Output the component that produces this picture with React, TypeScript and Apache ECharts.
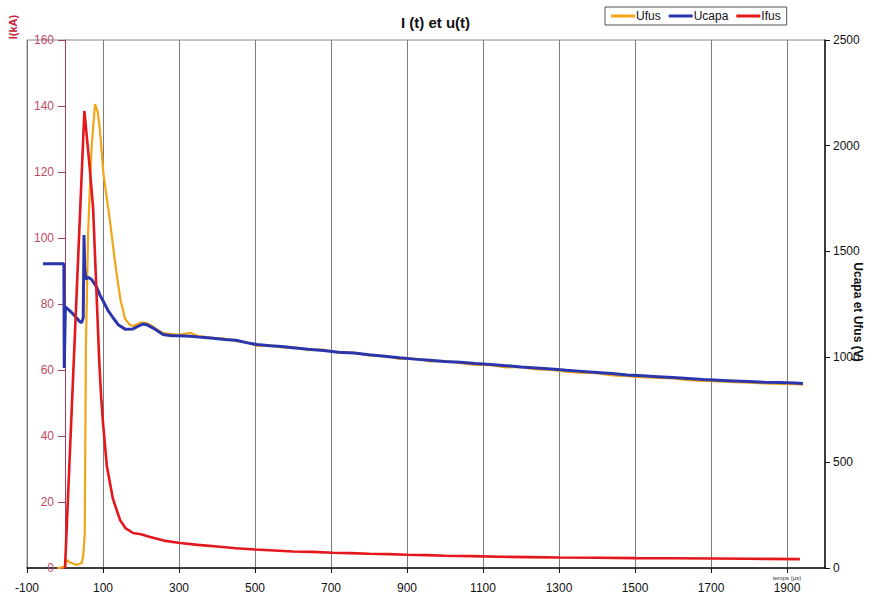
import React, { useEffect, useRef } from "react";
import * as echarts from "echarts";

const xTickValues = [-100, 100, 300, 500, 700, 900, 1100, 1300, 1500, 1700, 1900];

// Ucapa (V) : [time µs, value]
const ucapaData: [number, number][] = [
  [-58, 1440], [-30, 1441], [-3, 1440], [-2, 947], [1, 1236], [10, 1222], [20, 1205], [30, 1185],
  [38, 1168], [44, 1162], [48, 1185], [50, 1577], [52, 1420], [55, 1368], [62, 1376], [70, 1366],
  [83, 1331], [92, 1292], [101, 1262], [113, 1220], [126, 1186], [140, 1152], [158, 1131],
  [179, 1132], [195, 1147], [205, 1155], [215, 1152], [232, 1136], [258, 1106], [280, 1100],
  [300, 1100], [330, 1097], [360, 1092], [390, 1088], [420, 1082], [450, 1078], [480, 1066],
  [505, 1058], [540, 1052], [570, 1049], [600, 1043], [640, 1036], [680, 1030], [720, 1022],
  [760, 1018], [800, 1010], [840, 1003], [880, 995], [920, 989], [960, 984], [1000, 978],
  [1040, 974], [1080, 968], [1120, 963], [1160, 958], [1200, 952], [1240, 947], [1280, 942],
  [1320, 936], [1360, 931], [1400, 926], [1440, 921], [1480, 914], [1520, 910], [1560, 906],
  [1600, 902], [1640, 897], [1680, 892], [1720, 889], [1760, 886], [1800, 883], [1840, 880],
  [1880, 878], [1920, 876], [1942, 874],
];

// Ufus (V)
const ufusData: [number, number][] = [
  [-20, 0], [0, 5], [4, 38], [15, 25], [31, 14], [44, 24], [48, 60], [52, 166], [55, 1046],
  [61, 1600], [70, 1993], [79, 2197], [86, 2160], [92, 2074], [101, 1869], [110, 1750],
  [118, 1648], [128, 1500], [136, 1390], [146, 1270], [158, 1180], [170, 1152], [179, 1146],
  [200, 1162], [215, 1160], [232, 1142], [258, 1112], [300, 1104], [330, 1114], [350, 1098],
  [390, 1090], [420, 1086], [450, 1074], [480, 1068], [505, 1052], [540, 1055], [570, 1044],
  [600, 1046], [640, 1032], [680, 1034], [720, 1018], [760, 1020], [800, 1006], [840, 1005],
  [880, 990], [920, 992], [960, 978], [1000, 980], [1040, 970], [1080, 962], [1120, 960],
  [1160, 950], [1200, 952], [1240, 940], [1280, 938], [1320, 930], [1360, 924], [1400, 922],
  [1440, 912], [1480, 908], [1520, 904], [1560, 900], [1600, 898], [1640, 890], [1680, 886],
  [1720, 884], [1760, 880], [1800, 878], [1840, 874], [1880, 872], [1920, 870], [1942, 868],
];

// Ifus (kA)
const ifusData: [number, number][] = [
  [0, 0], [51, 138.5], [58, 130], [66, 120], [74, 109], [90, 63], [95, 52], [100, 44], [110, 31],
  [126, 21], [145, 14.5], [160, 12], [179, 10.6], [200, 10.2], [224, 9.4], [260, 8.3],
  [303, 7.6], [350, 7.0], [400, 6.5], [450, 6.0], [500, 5.6], [550, 5.3], [600, 5.0],
  [650, 4.9], [705, 4.6], [750, 4.5], [800, 4.3], [850, 4.2], [900, 4.0], [950, 3.9],
  [1000, 3.7], [1070, 3.6], [1145, 3.4], [1220, 3.3], [1300, 3.2], [1400, 3.1], [1500, 3.0],
  [1600, 2.95], [1700, 2.9], [1800, 2.8], [1934, 2.7],
];

const FONT = "Liberation Sans, Arial, sans-serif";
const plain = (v: number) => String(v);

export default function App() {
  const ref = useRef<HTMLDivElement>(null);
  useEffect(() => {
    if (!ref.current) return;
    const chart = echarts.init(ref.current, undefined, { renderer: "svg" });
    chart.setOption({
      animation: false,
      backgroundColor: "#ffffff",
      textStyle: { fontFamily: FONT },
      title: {
        text: "I (t) et u(t)",
        left: "center",
        top: 10,
        textStyle: { fontSize: 15, fontWeight: "bold", color: "#111", fontFamily: FONT },
      },
      legend: {
        left: 605,
        top: 7,
        padding: [3, 6],
        itemGap: 8,
        itemWidth: 24,
        itemHeight: 3,
        icon: "rect",
        borderColor: "#555",
        borderWidth: 1,
        textStyle: { fontSize: 12, color: "#111", fontFamily: FONT, padding: [0, 0, 0, -4] },
        data: ["Ufus", "Ucapa", "Ifus"],
      },
      grid: {
        left: 27,
        right: 46,
        top: 40,
        bottom: 36,
        containLabel: false,
        outerBoundsMode: "none",
        show: true,
        borderColor: "#888",
        borderWidth: 1,
      },
      xAxis: {
        type: "value",
        min: -100,
        max: 2000,
        axisLine: { onZero: false, lineStyle: { color: "#111", width: 1.5 } },
        axisTick: { show: true, customValues: xTickValues, length: 5, lineStyle: { color: "#111" } },
        axisLabel: {
          customValues: xTickValues,
          formatter: plain,
          color: "#111",
          fontSize: 12,
          margin: 14,
          fontFamily: FONT,
        },
        splitLine: { show: true, lineStyle: { color: "#7a7a7a", width: 1 } },
      },
      yAxis: [
        {
          type: "value",
          min: 0,
          max: 160,
          interval: 20,
          position: "left",
          offset: -38,
          axisLine: { show: true, onZero: false, lineStyle: { color: "#a04060", width: 1 } },
          axisTick: { show: true, length: 7, lineStyle: { color: "#a04060" } },
          axisLabel: { formatter: plain, color: "#c04a62", fontSize: 12, margin: 11, fontFamily: FONT },
          splitLine: { show: false },
        },
        {
          type: "value",
          min: 0,
          max: 2500,
          interval: 500,
          position: "right",
          axisLine: { show: true, onZero: false, lineStyle: { color: "#111", width: 1.5 } },
          axisTick: { show: true, length: 5, lineStyle: { color: "#111" } },
          axisLabel: { formatter: plain, color: "#111", fontSize: 12, margin: 8, fontFamily: FONT },
          splitLine: { show: false },
        },
      ],
      series: [
        {
          name: "Ufus",
          type: "line",
          yAxisIndex: 1,
          data: ufusData,
          showSymbol: false,
          color: "#f2a516",
          lineStyle: { width: 2.2, color: "#f2a516" },
        },
        {
          name: "Ucapa",
          type: "line",
          yAxisIndex: 1,
          data: ucapaData,
          showSymbol: false,
          color: "#2b36ad",
          lineStyle: { width: 3, color: "#2b36ad" },
        },
        {
          name: "Ifus",
          type: "line",
          yAxisIndex: 0,
          data: ifusData,
          showSymbol: false,
          color: "#e4171c",
          lineStyle: { width: 2.6, color: "#e4171c" },
        },
      ],
      graphic: [
        {
          type: "text",
          x: 13,
          y: 27,
          rotation: Math.PI / 2,
          style: {
            text: "I(kA)",
            fill: "#c8203a",
            font: `bold 11px ${FONT}`,
            align: "center",
            verticalAlign: "middle",
          },
        },
        {
          type: "text",
          x: 858,
          y: 312,
          rotation: -Math.PI / 2,
          style: {
            text: "Ucapa et Ufus (V)",
            fill: "#111",
            font: `bold 12px ${FONT}`,
            align: "center",
            verticalAlign: "middle",
          },
        },
        {
          type: "text",
          x: 787,
          y: 578,
          style: {
            text: "temps (µs)",
            fill: "#333",
            font: `6px ${FONT}`,
            align: "center",
            verticalAlign: "middle",
          },
        },
      ],
    });
    return () => chart.dispose();
  }, []);
  return (
    <div
      ref={ref}
      style={{ position: "fixed", left: 0, top: 0, width: 871, height: 604 }}
    />
  );
}
